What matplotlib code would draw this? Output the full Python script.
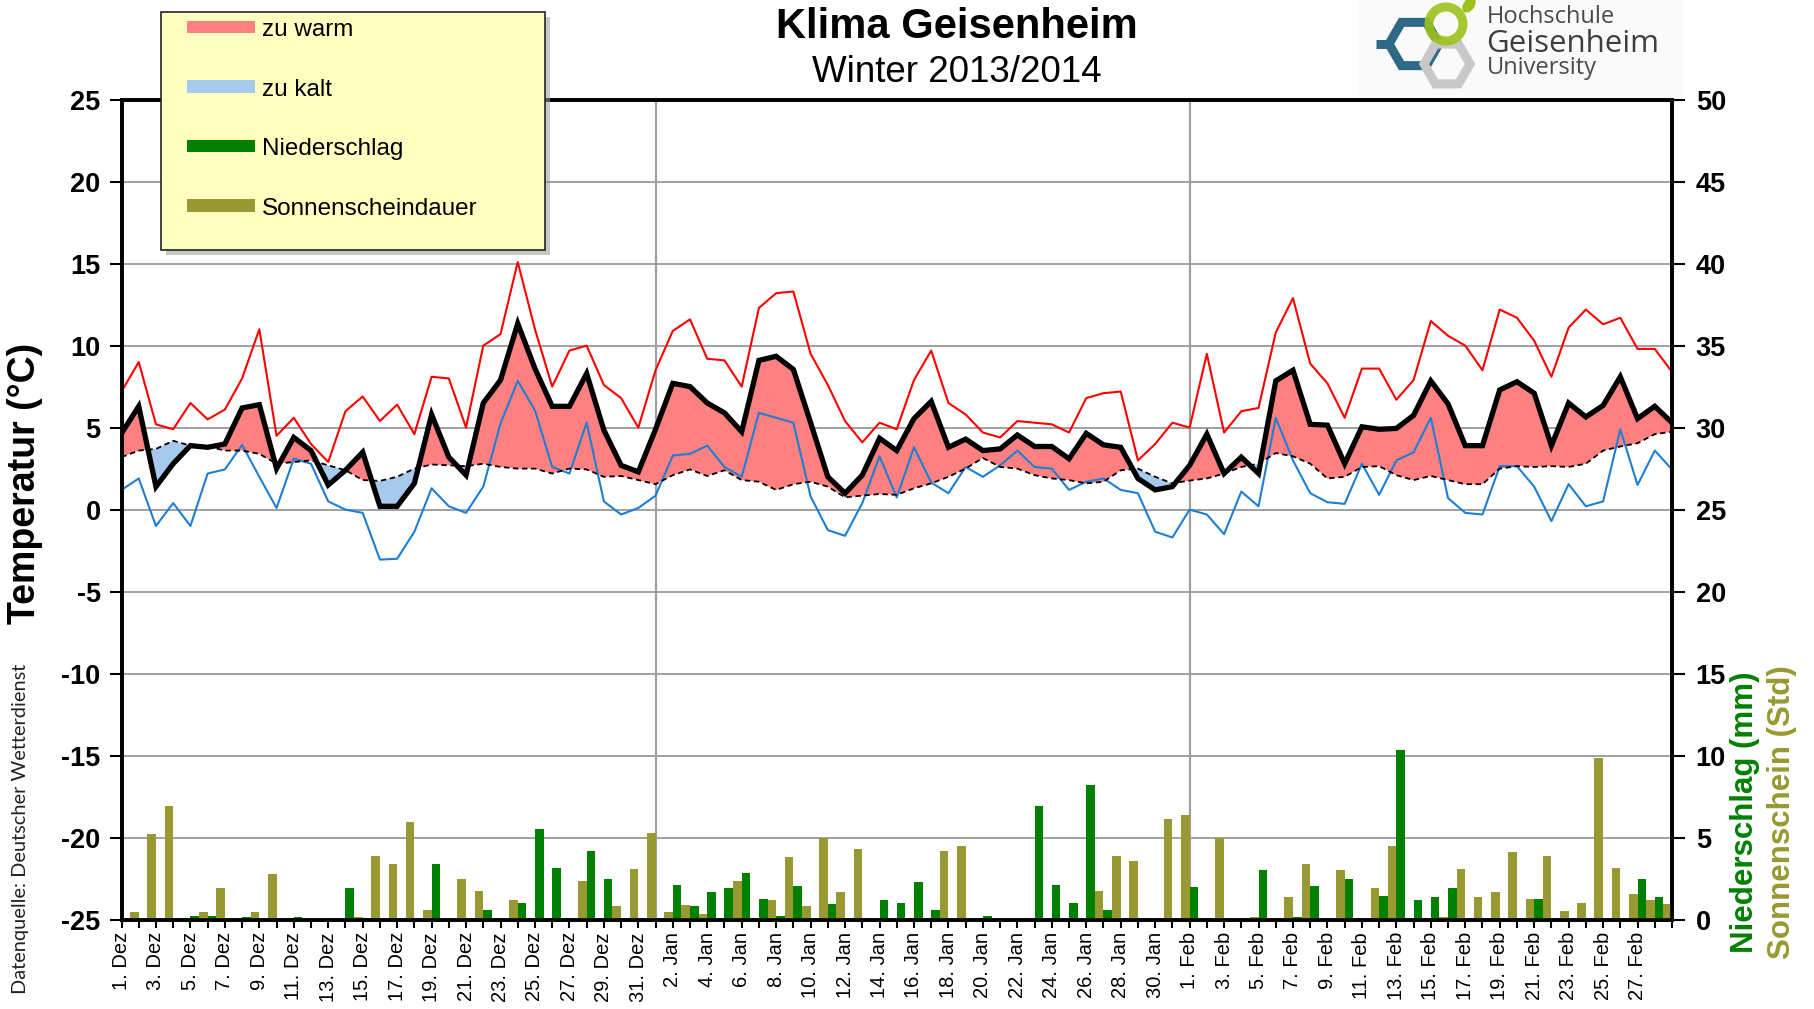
import numpy as np
import matplotlib
matplotlib.use("Agg")
import matplotlib.pyplot as plt
from matplotlib.patches import Rectangle, RegularPolygon, Circle, Ellipse

plt.rcParams['font.family'] = ['Liberation Sans', 'DejaVu Sans']
plt.rcParams['axes.unicode_minus'] = False

# ---------------- data ----------------
months = ["Dez", "Jan", "Feb", "Mär"]
month_days = [31, 31, 28, 1]
day_labels = [f"{d}. {m}" for m, n in zip(months, month_days) for d in range(1, n + 1)]

# daily temperatures (°C), 1 Dec 2013 ... 1 Mar 2014
t_max = [7.2, 9.0, 5.2, 4.9, 6.5, 5.5, 6.1, 8.0, 11.0, 4.5,
         5.6, 4.0, 2.9, 6.0, 6.9, 5.4, 6.4, 4.6, 8.1, 8.0,
         5.0, 10.0, 10.7, 15.1, 11.0, 7.5, 9.7, 10.0, 7.6, 6.8,
         5.0, 8.5, 10.9, 11.6, 9.2, 9.1, 7.5, 12.3, 13.2, 13.3,
         9.5, 7.6, 5.4, 4.1, 5.3, 4.9, 7.9, 9.7, 6.5, 5.8,
         4.7, 4.4, 5.4, 5.3, 5.2, 4.7, 6.8, 7.1, 7.2, 3.0,
         4.0, 5.3, 5.0, 9.5, 4.7, 6.0, 6.2, 10.8, 12.9, 8.9,
         7.7, 5.6, 8.6, 8.6, 6.7, 7.9, 11.5, 10.6, 10.0, 8.5,
         12.2, 11.7, 10.3, 8.1, 11.1, 12.2, 11.3, 11.7, 9.8, 9.8,
         8.4]
t_mean = [4.65, 6.3, 1.4, 2.8, 3.9, 3.8, 4.0, 6.2, 6.4, 2.5,
          4.4, 3.6, 1.5, 2.4, 3.5, 0.2, 0.2, 1.6, 5.8, 3.2,
          2.1, 6.5, 7.9, 11.35, 8.6, 6.3, 6.3, 8.3, 4.85, 2.7,
          2.3, 4.9, 7.7, 7.5, 6.5, 5.9, 4.75, 9.1, 9.35, 8.55,
          5.3, 2.0, 1.0, 2.1, 4.35, 3.6, 5.55, 6.6, 3.8, 4.3,
          3.6, 3.7, 4.55, 3.85, 3.85, 3.1, 4.65, 3.95, 3.8, 1.9,
          1.2, 1.4, 2.7, 4.6, 2.2, 3.2, 2.2, 7.85, 8.5, 5.2,
          5.15, 2.8, 5.05, 4.9, 4.95, 5.75, 7.85, 6.45, 3.9, 3.9,
          7.3, 7.8, 7.1, 3.9, 6.5, 5.65, 6.35, 8.1, 5.55, 6.3,
          5.3]
t_norm = [3.2, 3.6, 3.7, 4.2, 3.9, 3.85, 3.6, 3.6, 3.4, 2.8,
          2.9, 3.0, 2.7, 2.4, 1.8, 1.75, 2.0, 2.5, 2.75, 2.7,
          2.65, 2.8, 2.6, 2.5, 2.5, 2.2, 2.5, 2.45, 2.0, 2.05,
          1.8, 1.55, 2.1, 2.45, 2.05, 2.4, 1.8, 1.7, 1.2, 1.55,
          1.7, 1.4, 0.75, 0.85, 0.95, 0.9, 1.3, 1.6, 2.0, 2.5,
          3.15, 2.6, 2.5, 2.1, 1.9, 1.8, 1.6, 1.7, 2.4, 2.5,
          2.0, 1.6, 1.77, 1.9, 2.2, 2.6, 2.8, 3.45, 3.25, 2.8,
          1.9, 2.0, 2.6, 2.65, 2.1, 1.8, 2.05, 1.8, 1.55, 1.55,
          2.5, 2.65, 2.6, 2.65, 2.6, 2.8, 3.6, 3.85, 4.05, 4.6,
          4.75]
t_min = [1.2, 1.9, -1.0, 0.4, -1.0, 2.2, 2.45, 3.95, 2.0, 0.1,
         3.1, 2.8, 0.5, 0.0, -0.2, -3.05, -3.0, -1.35, 1.3, 0.2,
         -0.2, 1.4, 5.25, 7.85, 6.05, 2.6, 2.2, 5.3, 0.5, -0.3,
         0.1, 0.85, 3.3, 3.4, 3.9, 2.6, 2.0, 5.9, 5.6, 5.3,
         0.8, -1.25, -1.6, 0.4, 3.25, 0.75, 3.8, 1.65, 1.0, 2.6,
         2.0, 2.7, 3.6, 2.6, 2.5, 1.2, 1.7, 1.9, 1.2, 1.0,
         -1.35, -1.7, 0.0, -0.3, -1.5, 1.1, 0.2, 5.6, 3.0, 1.0,
         0.45, 0.35, 2.8, 0.9, 3.0, 3.5, 5.6, 0.7, -0.2, -0.3,
         2.65, 2.65, 1.4, -0.7, 1.55, 0.2, 0.5, 4.9, 1.5, 3.6,
         2.45]

# daily precipitation (mm) and sunshine (h), 1 Dec 2013 ... 28 Feb 2014
precip = [0, 0, 0, 0, 0.2, 0.2, 0.1, 0.15, 0, 0,
          0.15, 0, 0, 1.9, 0, 0, 0, 0, 3.4, 0,
          0, 0.6, 0, 1.0, 5.55, 3.15, 0, 4.2, 2.45, 0,
          0,
          0, 2.1, 0.8, 1.65, 1.9, 2.85, 1.25, 0.2, 2.05, 0,
          0.95, 0, 0, 1.2, 1.0, 2.3, 0.55, 0, 0, 0.2,
          0, 0, 6.95, 2.1, 1.0, 8.2, 0.55, 0, 0, 0,
          0.05,
          2.0, 0, 0, 0, 3.0, 0.05, 0.15, 2.05, 0, 2.45,
          0, 1.45, 10.35, 1.2, 1.35, 1.9, 0, 0, 0.05, 0,
          1.25, 0, 0, 0, 0, 0, 2.45, 1.35]
sunshine = [0.47, 5.2, 6.95, 0, 0.47, 1.9, 0, 0.47, 2.8, 0,
            0, 0, 0, 0.15, 3.85, 3.4, 5.95, 0.6, 0, 2.45,
            1.75, 0, 1.2, 0, 0, 0, 2.35, 0, 0.8, 3.1,
            5.3,
            0.47, 0.9, 0.35, 0, 2.35, 0, 1.2, 3.8, 0.8, 4.95,
            1.65, 4.3, 0, 0, 0, 0, 4.2, 4.5, 0, 0,
            0, 0, 0, 0, 0.05, 1.75, 3.85, 3.55, 0, 6.1,
            6.35,
            0, 4.95, 0, 0.15, 0, 1.35, 3.4, 0, 3.0, 0,
            1.9, 4.5, 0, 0, 0.15, 3.1, 1.35, 1.65, 4.1, 1.25,
            3.85, 0.5, 1.0, 9.85, 3.15, 1.55, 1.2, 0.95]

# ---------------- figure ----------------
W, H = 1814, 1009
fig = plt.figure(figsize=(W / 100, H / 100), dpi=100)


def fx(x):
    return x / W


def fy(y):
    return 1 - y / H


L, R, T, B = 121.5, 1672, 99.7, 919.5
ax = fig.add_axes([fx(L), fy(B), (R - L) / W, (B - T) / H])
ax2 = ax.twinx()

xl = np.arange(len(t_max))
xb = np.arange(len(precip))
tmean = np.array(t_mean)
tnorm = np.array(t_norm)

grid_c = '#A0A0A0'
for yv in range(-20, 25, 5):
    ax.axhline(yv, color=grid_c, lw=1.4, zorder=0)
for xv in (31, 62):
    ax.axvline(xv, color=grid_c, lw=1.6, zorder=0)

ax.fill_between(xl, tmean, tnorm, where=tmean >= tnorm, interpolate=True,
                color='#FF8080', lw=0, zorder=1)
ax.fill_between(xl, tmean, tnorm, where=tmean <= tnorm, interpolate=True,
                color='#A8C9EE', lw=0, zorder=1)
ax.plot(xl, t_max, color='#FF0000', lw=1.5, zorder=3)
ax.plot(xl, t_min, color='#1E7FD2', lw=1.5, zorder=3)
ax.plot(xl, t_norm, color='black', lw=1.3, ls=(0, (3, 2)), zorder=4)
ax.plot(xl, t_mean, color='black', lw=3.8, zorder=5, solid_joinstyle='miter')

ax.set_xlim(0, 90)
ax.set_ylim(-25, 25)
ax.set_yticks(np.arange(-25, 26, 5))
ax.set_xticks(xl)
ax.set_xticklabels([lab if (i % 2 == 0 and i < 90) else '' for i, lab in enumerate(day_labels)],
                   rotation=90, fontsize=14.5)
ax.tick_params(axis='x', length=6, width=1.5, direction='out', pad=3)
ax.tick_params(axis='y', length=9, width=1.5, direction='out', pad=6, labelsize=19.5)
for t in ax.get_yticklabels():
    t.set_fontweight('bold')

ax2.bar(xb + 0.25, precip, width=0.5, color='#008000', lw=0, zorder=2)
ax2.bar(xb + 0.75, sunshine, width=0.5, color='#999933', lw=0, zorder=2)
ax2.set_ylim(0, 50)
ax2.set_yticks(np.arange(0, 51, 5))
ax2.tick_params(axis='y', length=9, width=1.5, direction='out', pad=8, labelsize=19.5)
for t in ax2.get_yticklabels():
    t.set_fontweight('bold')

for a in (ax, ax2):
    for s in a.spines.values():
        s.set_linewidth(2.6)
        s.set_color('black')

# axis labels
fig.text(fx(25), fy(483), 'Temperatur (°C)', rotation=90, ha='center', va='center',
         fontsize=27, fontweight='bold')
fig.text(fx(1745), fy(812), 'Niederschlag (mm)', rotation=90, ha='center', va='center',
         fontsize=22.5, fontweight='bold', color='#008000')
fig.text(fx(1782), fy(812), 'Sonnenschein (Std)', rotation=90, ha='center', va='center',
         fontsize=22.5, fontweight='bold', color='#999933')
fig.text(fx(21), fy(829), 'Datenquelle: Deutscher Wetterdienst', rotation=90,
         ha='center', va='center', fontsize=14.4, family=['Lato', 'DejaVu Sans'], color='#222222')

# title
fig.text(fx(957), fy(27), 'Klima Geisenheim', ha='center', va='center',
         fontsize=30, fontweight='bold')
fig.text(fx(957), fy(73), 'Winter 2013/2014', ha='center', va='center', fontsize=26.5)

# legend
lx0, ly0, lx1, ly1 = 161, 12, 545, 250
fig.patches.append(Rectangle((fx(lx0 + 5), fy(ly1 + 5)), (lx1 - lx0) / W, (ly1 - ly0) / H,
                             transform=fig.transFigure, facecolor='#9A9A9A', alpha=0.55,
                             edgecolor='none', zorder=10))
fig.patches.append(Rectangle((fx(lx0), fy(ly1)), (lx1 - lx0) / W, (ly1 - ly0) / H,
                             transform=fig.transFigure, facecolor='#FFFFC0',
                             edgecolor='#222222', lw=1.2, zorder=11))
leg_items = [('zu warm', '#FF8080'), ('zu kalt', '#A8C9EE'),
             ('Niederschlag', '#008000'), ('Sonnenscheindauer', '#999933')]
for k, (lab, col) in enumerate(leg_items):
    yc = 27 + k * 59.5
    fig.patches.append(Rectangle((fx(187), fy(yc + 6)), 68 / W, 12 / H,
                                 transform=fig.transFigure, facecolor=col,
                                 edgecolor='none', zorder=12))
    fig.text(fx(262), fy(yc + 3), lab, ha='left', va='center', fontsize=17.5, zorder=13)

# logo
lax = fig.add_axes([fx(1359), fy(98), 324 / W, 98 / H])
lax.set_xlim(1359, 1683)
lax.set_ylim(98, 0)
lax.set_aspect('equal')
lax.axis('off')
lax.add_patch(Rectangle((1359, 0), 324, 98, facecolor='#FAFAFA', edgecolor='none'))
lax.plot([1376, 1390], [44, 44], color='#2E6A87', lw=6.5, solid_capstyle='butt')
lax.add_patch(RegularPolygon((1414, 44), 6, radius=25, orientation=np.pi / 6,
                             facecolor='none', edgecolor='#2E6A87', lw=6.5))
lax.add_patch(RegularPolygon((1447, 64), 6, radius=23, orientation=np.pi / 6,
                             facecolor='none', edgecolor='#C8C8C8', lw=6.5))
lax.add_patch(Circle((1446, 24), 17, facecolor='none', edgecolor='#9CC21C', lw=6.5, alpha=0.9))
lax.add_patch(Ellipse((1469, 5), 11, 17, angle=35, facecolor='#9CC21C', edgecolor='none'))
lax.text(1487, 17, 'Hochschule', ha='left', va='center', fontsize=17,
         family=['Open Sans', 'DejaVu Sans'], color='#4A4A4A')
lax.text(1486, 44, 'Geisenheim', ha='left', va='center', fontsize=22.5,
         family=['Open Sans', 'DejaVu Sans'], color='#3E3E3E')
lax.text(1487, 68, 'University', ha='left', va='center', fontsize=17,
         family=['Open Sans', 'DejaVu Sans'], color='#4A4A4A')

fig.savefig('out.png', dpi=100)
